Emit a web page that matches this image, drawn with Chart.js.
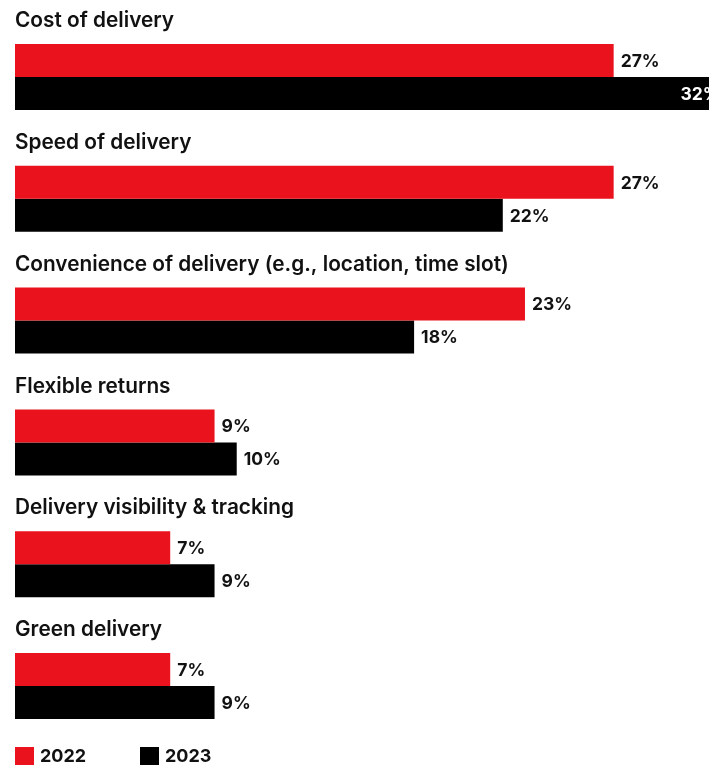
<!DOCTYPE html>
<html><head><meta charset="utf-8">
<script src="https://cdn.jsdelivr.net/npm/chart.js@4"></script>
<style>html,body{margin:0;padding:0;background:#fff;overflow:hidden}#wrap{width:709px;height:765px;position:relative}</style>
</head><body><div id="wrap"><canvas id="c" width="709" height="765"></canvas></div>
<script>
const categories = ["Cost of delivery","Speed of delivery","Convenience of delivery (e.g., location, time slot)","Flexible returns","Delivery visibility & tracking","Green delivery"];
const values2022 = [27,27,23,9,7,7];
const values2023 = [32,22,18,10,9,9];
const seriesLabels = ["2022","2023"];
const seriesColors = ["#E9121D","#000000"];
const FONT = "Inter, 'Open Sans', sans-serif";
const TEXT = "#111111";

const annotate = {
  id: 'annotate',
  afterDraw(chart) {
    const ctx = chart.ctx;
    const metas = [chart.getDatasetMeta(0), chart.getDatasetMeta(1)];
    ctx.save();
    ctx.textBaseline = 'middle';
    ctx.textAlign = 'left';
    ctx.font = `600 20.8px ${FONT}`;
    ctx.fillStyle = TEXT;
    metas[0].data.forEach((bar, i) => {
      const top = bar.y - bar.height / 2;
      ctx.fillText(categories[i], chart.chartArea.left, top - 23);
    });
    ctx.font = `700 17.5px ${FONT}`;
    metas.forEach((meta, di) => {
      meta.data.forEach((bar, i) => {
        const txt = chart.data.datasets[di].data[i] + '%';
        const w = ctx.measureText(txt).width;
        if (bar.x + 7 + w > chart.width) {
          ctx.fillStyle = '#ffffff';
          ctx.textAlign = 'right';
          ctx.fillText(txt, bar.x - 4, bar.y + 1);
        } else {
          ctx.fillStyle = TEXT;
          ctx.textAlign = 'left';
          ctx.fillText(txt, bar.x + 7, bar.y + 1);
        }
      });
    });
    // legend
    ctx.font = `700 18px ${FONT}`;
    ctx.textAlign = 'left';
    const lx = [15, 140];
    seriesLabels.forEach((lab, i) => {
      ctx.fillStyle = seriesColors[i];
      ctx.fillRect(lx[i], 747, 19, 19);
      ctx.fillStyle = TEXT;
      ctx.fillText(lab, lx[i] + 25, 757);
    });
    ctx.restore();
  }
};

new Chart(document.getElementById('c'), {
  type: 'bar',
  data: {
    labels: categories,
    datasets: [
      { label: seriesLabels[0], data: values2022, backgroundColor: seriesColors[0], categoryPercentage: 0.542, barPercentage: 1.0, borderWidth: 0 },
      { label: seriesLabels[1], data: values2023, backgroundColor: seriesColors[1], categoryPercentage: 0.542, barPercentage: 1.0, borderWidth: 0 }
    ]
  },
  options: {
    indexAxis: 'y',
    responsive: false,
    animation: false,
    layout: { padding: { left: 15, right: 0, top: 16, bottom: 18 } },
    scales: {
      x: { display: false, min: 0, max: 31.3 },
      y: { display: false }
    },
    plugins: { legend: { display: false }, tooltip: { enabled: false } }
  },
  plugins: [annotate]
});
</script></body></html>
